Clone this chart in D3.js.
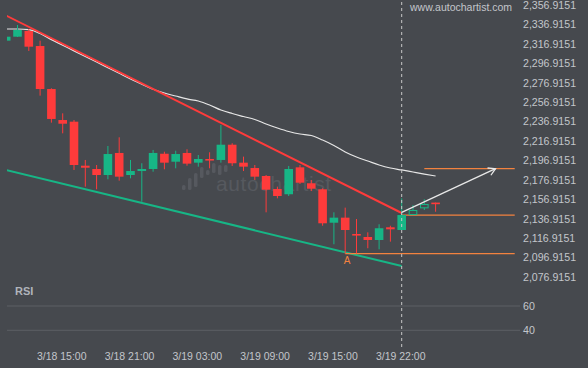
<!DOCTYPE html>
<html>
<head>
<meta charset="utf-8">
<script src="https://cdn.jsdelivr.net/npm/d3@7"></script>
<style>
  html, body { margin: 0; padding: 0; background: #46494e; }
  svg { display: block; font-family: "Liberation Sans", Arial, sans-serif; }
</style>
</head>
<body>
<div id="chart"></div>
<script>
// hourly candles, index 0 = 3/18 10:00 ; [open, high, low, close]
const ohlc = [
  [2320.2, 2324.3, 2320.2, 2324.3],
  [2324.3, 2336.3, 2324.0, 2331.2],
  [2330.2, 2332.2, 2309.6, 2314.0],
  [2314.7, 2320.2, 2263.6, 2270.4],
  [2270.4, 2271.2, 2235.8, 2239.6],
  [2238.5, 2245.4, 2224.8, 2234.7],
  [2236.8, 2238.5, 2187.1, 2192.2],
  [2191.5, 2197.4, 2169.9, 2189.4],
  [2188.1, 2192.2, 2167.2, 2181.9],
  [2181.9, 2211.8, 2177.5, 2203.5],
  [2204.6, 2220.7, 2176.1, 2180.2],
  [2181.9, 2197.4, 2178.5, 2186.0],
  [2186.0, 2194.0, 2154.4, 2188.1],
  [2188.1, 2207.7, 2185.3, 2204.6],
  [2203.8, 2205.9, 2187.8, 2194.6],
  [2195.6, 2206.9, 2188.8, 2203.5],
  [2204.6, 2208.4, 2191.5, 2193.6],
  [2194.6, 2202.5, 2190.5, 2198.4],
  [2198.4, 2205.3, 2188.8, 2197.4],
  [2197.4, 2233.4, 2194.6, 2213.1],
  [2213.1, 2214.6, 2191.2, 2194.0],
  [2194.6, 2200.8, 2186.0, 2190.5],
  [2189.1, 2192.2, 2176.8, 2180.2],
  [2180.9, 2181.9, 2143.5, 2166.8],
  [2167.5, 2169.9, 2157.9, 2160.3],
  [2162.1, 2191.2, 2160.3, 2188.1],
  [2189.8, 2192.2, 2172.7, 2174.0],
  [2173.4, 2176.8, 2165.4, 2167.8],
  [2167.2, 2168.2, 2129.7, 2132.2],
  [2132.8, 2143.5, 2110.6, 2138.0],
  [2138.0, 2148.3, 2101.0, 2125.3],
  [2121.2, 2136.6, 2101.0, 2120.2],
  [2118.1, 2122.9, 2106.5, 2115.0],
  [2115.0, 2131.2, 2105.4, 2127.1],
  [2128.1, 2129.7, 2113.3, 2126.0],
  [2125.3, 2157.9, 2125.3, 2140.7],
  [2140.7, 2151.0, 2140.7, 2145.9],
  [2147.6, 2156.9, 2145.9, 2152.1],
  [2153.5, 2153.5, 2144.1, 2153.3]
];
const lastClosed = 35;   // candles after this one are drawn as outlines

const movingAvg = [
  2332.2, 2332.2, 2331.5, 2327.6, 2321.3, 2315.5, 2309.7, 2303.9, 2298.2, 2292.4,
  2286.6, 2280.8, 2275.5, 2270.2, 2266.3, 2263.2, 2260.2, 2258.1, 2254.0, 2248.8,
  2245.2, 2242.1, 2239.1, 2234.4, 2230.3, 2226.7, 2224.1, 2222.6, 2217.9, 2212.3,
  2205.6, 2200.4, 2196.3, 2192.2, 2189.1, 2187.1, 2185.0, 2182.9, 2180.9
];

const rsi = [
  49.9, 53.2, 50.0, 47.1, 47.1, 47.1, 47.1, 47.1, 44.4, 44.4,
  44.4, 47.1, 49.9, 49.9, 49.9, 49.9, 47.1, 49.9, 47.1, 47.1,
  47.1, 47.1, 44.4, 41.6, 43.0, 44.4, 41.3, 38.3, 35.3, 35.3,
  35.3, 35.3, 32.6, 35.3, 32.6, 31.4, 34.9, 38.6, 38.6
];

// pattern lines: [candle index, price]
const resistance = [[0, 2346.0], [35, 2142.8]];
const support    = [[0, 2187.1], [35, 2088.2]];
const forecast   = [[35, 2143.5], [43.3, 2188.4]];
const levels = [
  { from: 35, to: 45, price: 2140.7 },
  { from: 37, to: 45, price: 2188.4 },
  { from: 30, to: 45, price: 2101.0 }
];
const pointA = { index: 30, price: 2101.0, label: "A" };

const priceTicks = [2356.9151, 2336.9151, 2316.9151, 2296.9151, 2276.9151, 2256.9151,
  2236.9151, 2216.9151, 2196.9151, 2176.9151, 2156.9151, 2136.9151, 2116.9151,
  2096.9151, 2076.9151];
const rsiTicks = [60, 40];
const timeTickIdx = [5, 11, 17, 23, 29, 35];
const timeTickLabels = ["3/18 15:00", "3/18 21:00", "3/19 03:00", "3/19 09:00", "3/19 15:00", "3/19 22:00"];

const W = 588, H = 368;
const BG = "#46494e";
const UP = "#17b686";
const DOWN = "#fe3b3b";
const ORANGE = "#f3823f";
const TEXT = "#c3c6cb";

const x  = d3.scaleLinear().domain([0, 45]).range([6.2, 6.2 + 11.3 * 45]);
const y  = d3.scaleLinear().domain([2076.9151, 2356.9151]).range([277, 5]);
const yR = d3.scaleLinear().domain([40, 60]).range([330.3, 306]);
const plotLeft = 7, plotRight = 520;

const svg = d3.select("#chart").append("svg")
  .attr("width", W).attr("height", H);

svg.append("rect").attr("width", W).attr("height", H).attr("fill", BG);

svg.append("clipPath").attr("id", "plot")
  .append("rect")
    .attr("x", plotLeft).attr("y", 0)
    .attr("width", plotRight - plotLeft).attr("height", 282);

// watermark
const wm = svg.append("g").attr("fill", "#56595f");
const logoBars = [[5, 0], [12, 0], [14, 3], [11, 12], [5, 15], [10, 17], [10, 15], [7, 18]];
logoBars.forEach((b, k) => {
  wm.append("rect")
    .attr("x", 182 + k * 6).attr("y", 190 - b[1] - b[0])
    .attr("width", 3.5).attr("height", b[0]).attr("rx", 1.5);
});
wm.append("text")
  .attr("x", 216).attr("y", 191)
  .attr("font-size", "21px")
  .attr("letter-spacing", "0.6")
  .text("autochartist");

svg.append("text")
  .attr("x", 410).attr("y", 11)
  .attr("font-size", "10.5px").attr("fill", TEXT)
  .text("www.autochartist.com");

const plot = svg.append("g").attr("clip-path", "url(#plot)");

// moving average
plot.append("path")
  .datum(movingAvg)
  .attr("fill", "none")
  .attr("stroke", "#e6e6e6")
  .attr("stroke-width", 1.2)
  .attr("d", d3.line().x((d, i) => x(i)).y(d => y(d)).curve(d3.curveMonotoneX));

// support / resistance
const seg = d3.line().x(d => x(d[0])).y(d => y(d[1]));
plot.append("path").datum(support)
  .attr("fill", "none").attr("stroke", UP).attr("stroke-width", 2)
  .attr("d", seg);
plot.append("path").datum(resistance)
  .attr("fill", "none").attr("stroke", DOWN).attr("stroke-width", 2)
  .attr("d", seg);

// horizontal levels
levels.forEach(l => {
  plot.append("line")
    .attr("x1", x(l.from)).attr("x2", x(l.to))
    .attr("y1", y(l.price)).attr("y2", y(l.price))
    .attr("stroke", ORANGE).attr("stroke-width", 1.3);
});

// candles
const bodyW = 8.6;
ohlc.forEach((c, i) => {
  const [o, h, l, cl] = c;
  const up = cl >= o;
  const col = up ? UP : DOWN;
  const g = plot.append("g");
  g.append("line")
    .attr("x1", x(i)).attr("x2", x(i))
    .attr("y1", y(h)).attr("y2", y(l))
    .attr("stroke", col).attr("stroke-width", 1);
  const top = y(Math.max(o, cl));
  const bh = Math.max(1.6, Math.abs(y(o) - y(cl)));
  if (i > lastClosed && up) {
    g.append("rect")
      .attr("x", x(i) - bodyW / 2 + 0.5).attr("y", top + 0.5)
      .attr("width", bodyW - 1).attr("height", bh - 1)
      .attr("fill", BG).attr("stroke", col).attr("stroke-width", 1);
  } else {
    g.append("rect")
      .attr("x", x(i) - bodyW / 2).attr("y", top)
      .attr("width", bodyW).attr("height", bh)
      .attr("fill", col);
  }
});

// forecast arrow
const p0 = [x(forecast[0][0]), y(forecast[0][1])];
const p1 = [x(forecast[1][0]), y(forecast[1][1])];
const ang = Math.atan2(p1[1] - p0[1], p1[0] - p0[0]);
const headLen = 8, headAng = Math.PI / 6;
svg.append("line")
  .attr("x1", p0[0]).attr("y1", p0[1]).attr("x2", p1[0]).attr("y2", p1[1])
  .attr("stroke", "#e8e8e8").attr("stroke-width", 1.3);
svg.append("path")
  .attr("fill", "none").attr("stroke", "#e8e8e8").attr("stroke-width", 1.3)
  .attr("d", `M${p1[0] - headLen * Math.cos(ang - headAng)},${p1[1] - headLen * Math.sin(ang - headAng)}
              L${p1[0]},${p1[1]}
              L${p1[0] - headLen * Math.cos(ang + headAng)},${p1[1] - headLen * Math.sin(ang + headAng)}`);

// point label
svg.append("text")
  .attr("x", x(pointA.index) + 2).attr("y", y(pointA.price) + 10)
  .attr("text-anchor", "middle")
  .attr("font-size", "10px").attr("fill", ORANGE)
  .text(pointA.label);

// right price axis
const yAxis = svg.append("g")
  .attr("transform", `translate(${plotRight},0)`)
  .call(d3.axisRight(y).tickValues(priceTicks).tickSize(0).tickPadding(3)
    .tickFormat(d3.format(",.4f")));
yAxis.select(".domain").remove();
yAxis.selectAll("text")
  .attr("fill", TEXT).attr("font-size", "10.6px")
  .attr("font-family", "Liberation Sans, Arial, sans-serif");

// RSI panel
svg.append("text")
  .attr("x", 15).attr("y", 295)
  .attr("font-size", "11px").attr("font-weight", "bold").attr("fill", "#b0b4bb")
  .text("RSI");

rsiTicks.forEach(t => {
  svg.append("line")
    .attr("x1", plotLeft).attr("x2", plotRight)
    .attr("y1", yR(t)).attr("y2", yR(t))
    .attr("stroke", "#5c6064").attr("stroke-width", 1);
});
const rAxis = svg.append("g")
  .attr("transform", `translate(${plotRight},0)`)
  .call(d3.axisRight(yR).tickValues(rsiTicks).tickSize(0).tickPadding(3));
rAxis.select(".domain").remove();
rAxis.selectAll("text")
  .attr("fill", TEXT).attr("font-size", "10.6px")
  .attr("font-family", "Liberation Sans, Arial, sans-serif");

svg.append("path")
  .datum(rsi)
  .attr("fill", "none")
  .attr("stroke", "#e6e6e6")
  .attr("stroke-width", 1.2)
  .attr("clip-path", "url(#plot)")
  .attr("d", d3.line().x((d, i) => Math.max(plotLeft, x(i))).y(d => yR(d)));

// current-time marker
svg.append("line")
  .attr("x1", x(lastClosed)).attr("x2", x(lastClosed))
  .attr("y1", 2).attr("y2", 349)
  .attr("stroke", "#c8c8c8").attr("stroke-width", 1)
  .attr("stroke-dasharray", "3 3");

// time axis
const xAxis = svg.append("g")
  .attr("transform", "translate(0,349)")
  .call(d3.axisBottom(x).tickValues(timeTickIdx).tickSize(0).tickPadding(4)
    .tickFormat((d, k) => timeTickLabels[k]));
xAxis.select(".domain").remove();
xAxis.selectAll("text")
  .attr("dx", "-1.5")
  .attr("fill", TEXT).attr("font-size", "10.5px")
  .attr("font-family", "Liberation Sans, Arial, sans-serif");
</script>
</body>
</html>
